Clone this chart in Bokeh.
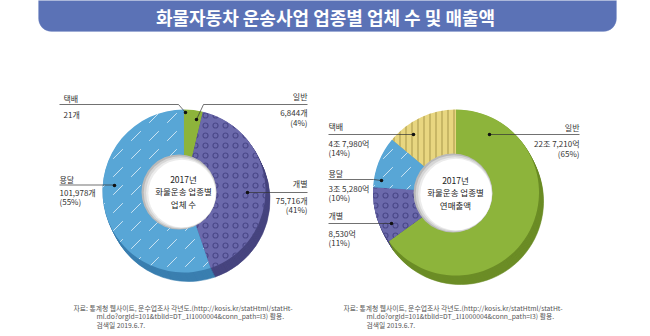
import numpy as np
from bokeh.plotting import figure
from bokeh.models import Range1d, Label, BoxAnnotation, ColumnDataSource
from bokeh.embed import file_html
from bokeh.resources import INLINE

# ---------------- data ----------------
TITLE = "화물자동차 운송사업 업종별 업체 수 및 매출액"
categories = ["일반", "개별", "용달", "택배"]          # clockwise from 12 o'clock
left_counts = [6844, 75716, 101978, 21]
left_value_labels = ["6,844개", "75,716개", "101,978개", "21개"]
left_pct_labels = ["(4%)", "(41%)", "(55%)", ""]
right_pct = [65, 11, 10, 14]
right_value_labels = ["22조 7,210억", "8,530억", "3조 5,280억", "4조 7,980억"]
right_pct_labels = ["(65%)", "(11%)", "(10%)", "(14%)"]
left_center = ["2017년", "화물운송 업종별", "업체 수"]
right_center = ["2017년", "화물운송 업종별", "연매출액"]
source_note = ["자료: 통계청 웹사이트, 운수업조사 각년도.(http://kosis.kr/statHtml/statHt-",
               "ml.do?orgId=101&tblId=DT_1I1000004&conn_path=I3) 활용.",
               "검색일 2019.6.7."]

# ---------------- style ----------------
W, H = 650, 336
FONT = "Noto Sans CJK KR"
top_color = {"일반": "#8db43b", "개별": "#6b69ab", "용달": "#58a6d6", "택배": "#e8d680"}
rim_color = {"일반": "#6c8d26", "개별": "#47457f", "용달": "#3b7fb0", "택배": "#b9a755"}
hatch_pat = {"일반": " ", "개별": "o", "용달": ",", "택배": "|"}
hatch_col = {"일반": "#8db43b", "개별": "#4a4889", "용달": "#e8f4fb", "택배": "#a8974a"}
hatch_scl = {"일반": 6, "개별": 10, "용달": 18, "택배": 6}
hatch_wt = {"일반": 1, "개별": 1.2, "용달": 0.8, "택배": 1.0}


def Y(v):
    return H - v


p = figure(width=W, height=H, x_range=Range1d(0, W), y_range=Range1d(0, H),
           output_backend="svg", toolbar_location=None, min_border=0)
p.axis.visible = False
p.grid.visible = False
p.outline_line_color = None
p.background_fill_color = "white"
p.border_fill_color = "white"

# title banner
p.add_layout(BoxAnnotation(left=38, right=616, top=Y(-20), bottom=Y(31),
                           fill_color="#5b72b6", fill_alpha=1.0,
                           line_color="#7f92c9", line_width=1, border_radius=13))
p.add_layout(Label(x=325, y=Y(16), text=TITLE, text_align="center", text_baseline="middle",
                   text_font=FONT, text_font_size="18px", text_font_style="bold",
                   text_color="white"))


def angles(values):
    v = np.array(values, float)
    f = v / v.sum()
    cum = np.concatenate([[0.0], np.cumsum(f)])
    start = np.pi / 2 - 2 * np.pi * cum[1:]
    end = np.pi / 2 - 2 * np.pi * cum[:-1]
    return start, end


def donut(cx, cy_px, values, R, r_in, hole_c, hole_r):
    cy = Y(cy_px)
    s, e = angles(values)
    src = ColumnDataSource(dict(
        start=s, end=e,
        top=[top_color[c] for c in categories],
        rim=[rim_color[c] for c in categories],
        hp=[hatch_pat[c] for c in categories],
        hc=[hatch_col[c] for c in categories],
        hs=[hatch_scl[c] for c in categories],
        hw=[hatch_wt[c] for c in categories],
    ))
    N = 9
    for k in range(N, 0, -1):
        p.wedge(x=cx + 4.5 * k / N, y=cy - 9 * k / N, radius=R,
                start_angle="start", end_angle="end",
                fill_color="rim", line_color="rim", line_width=0.6, source=src)
    p.annular_wedge(x=cx, y=cy, inner_radius=r_in, outer_radius=R,
                    start_angle="start", end_angle="end",
                    fill_color="top", line_color=None,
                    hatch_pattern="hp", hatch_color="hc", hatch_scale="hs",
                    hatch_weight="hw", source=src)
    hx, hy = hole_c
    p.circle(x=[hx], y=[Y(hy)], radius=hole_r, fill_color="#b9b9b9", line_color=None)
    p.circle(x=[hx + 1], y=[Y(hy + 0.5)], radius=hole_r - 1.2, fill_color="#d6d6d6", line_color=None)
    p.circle(x=[hx + 2], y=[Y(hy + 1)], radius=hole_r - 2.6, fill_color="#ececec", line_color=None)
    p.circle(x=[hx + 3], y=[Y(hy + 1.5)], radius=hole_r - 3.8, fill_color="white", line_color=None)


donut(183.5, 190.5, left_counts, 81.5, 30, (178.5, 191.5), 37.5)
donut(455.5, 192, right_pct, 83, 30, (452.5, 192.5), 39.5)


def txt(x, y, t, align="left", size="8px", color="#333333", style="normal"):
    p.add_layout(Label(x=x, y=Y(y), text=t, text_align=align, text_baseline="middle",
                       text_font=FONT, text_font_size=size, text_color=color,
                       text_font_style=style))


def leader(xs, ys, dot):
    p.line(x=xs, y=[Y(v) for v in ys], line_color="#333333", line_width=0.7)
    p.scatter(x=[dot[0]], y=[Y(dot[1])], size=3.6, fill_color="#111111", line_color=None)


# center texts
for i, t in enumerate(left_center):
    txt(183, 178 + i * 12.5, t, "center", "8.5px", "#222222")
for i, t in enumerate(right_center):
    txt(455, 179 + i * 12.5, t, "center", "8.5px", "#222222")

# left chart labels : 일반, 개별, 용달, 택배
txt(307, 96, categories[0], "right")
leader([307, 203, 196], [104, 104, 119], (196, 119))
txt(307, 112, left_value_labels[0], "right")
txt(307, 122, left_pct_labels[0], "right")

txt(307, 183, categories[1], "right")
leader([307, 247], [192, 192], (247, 192))
txt(307, 200, left_value_labels[1], "right")
txt(307, 209, left_pct_labels[1], "right")

txt(59, 179, categories[2], "left")
leader([59, 114], [184.5, 184.5], (114, 185))
txt(59, 192, left_value_labels[2], "left")
txt(59, 201, left_pct_labels[2], "left")

txt(63, 98, categories[3], "left")
leader([59, 178, 185], [104, 104, 112], (185, 112))
txt(63, 114, left_value_labels[3], "left")

# right chart labels
txt(579, 127, categories[0], "right")
leader([579, 489], [134, 134], (489, 134))
txt(579, 143, right_value_labels[0], "right")
txt(579, 153, right_pct_labels[0], "right")

txt(328, 215, categories[1], "left")
leader([328, 391], [223, 223], (391, 223))
txt(328, 233, right_value_labels[1], "left")
txt(328, 242, right_pct_labels[1], "left")

txt(328, 173, categories[2], "left")
leader([328, 373, 381], [179, 179, 180], (381, 180))
txt(328, 188, right_value_labels[2], "left")
txt(328, 197, right_pct_labels[2], "left")

txt(328, 126, categories[3], "left")
leader([328, 413], [134, 134], (413, 134))
txt(328, 143, right_value_labels[3], "left")
txt(328, 152, right_pct_labels[3], "left")

# source notes
for x0 in (73, 343):
    txt(x0, 307, source_note[0], "left", "6.8px", "#555555")
    txt(x0 + 23, 315, source_note[1], "left", "6.8px", "#555555")
    txt(x0 + 23, 324, source_note[2], "left", "6.8px", "#555555")

open("out.html", "w").write(file_html(p, INLINE))
